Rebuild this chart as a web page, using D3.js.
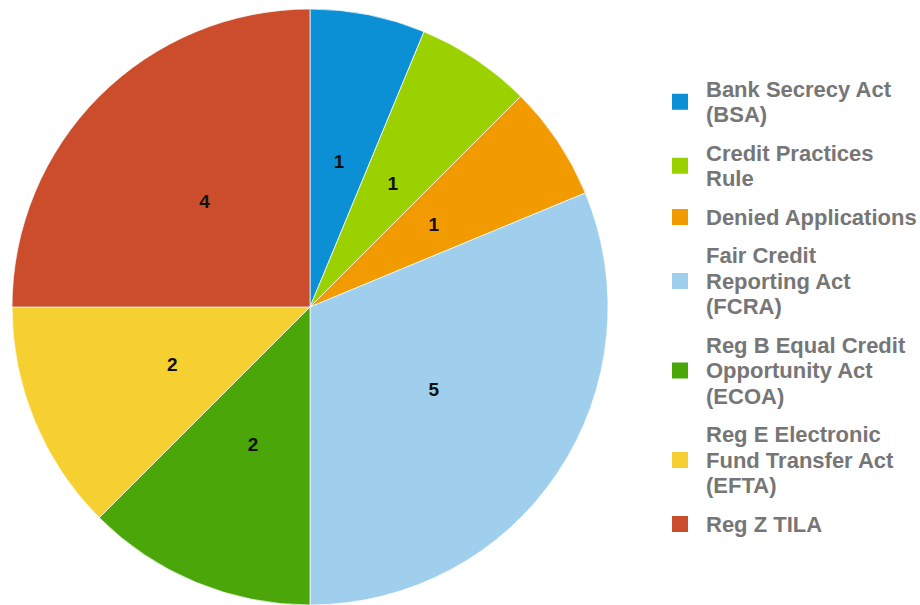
<!DOCTYPE html>
<html>
<head>
<meta charset="utf-8">
<script src="https://cdn.jsdelivr.net/npm/d3@7"></script>
<style>
  body { margin: 0; background: #fff; }
  svg { display: block; }
</style>
</head>
<body>
<div id="chart"></div>
<script>
// data
const categories = [
  "Bank Secrecy Act (BSA)",
  "Credit Practices Rule",
  "Denied Applications",
  "Fair Credit Reporting Act (FCRA)",
  "Reg B Equal Credit Opportunity Act (ECOA)",
  "Reg E Electronic Fund Transfer Act (EFTA)",
  "Reg Z TILA"
];
const counts = [1, 1, 1, 5, 2, 2, 4];
const legendLines = [
  ["Bank Secrecy Act", "(BSA)"],
  ["Credit Practices", "Rule"],
  ["Denied Applications"],
  ["Fair Credit", "Reporting Act", "(FCRA)"],
  ["Reg B Equal Credit", "Opportunity Act", "(ECOA)"],
  ["Reg E Electronic", "Fund Transfer Act", "(EFTA)"],
  ["Reg Z TILA"]
];
const colors = ["#0b8fd5", "#9cd100", "#f29b00", "#9fcfec", "#4ba60a", "#f6cf31", "#cc4d2b"];

const W = 920, H = 605;
const cx = 310, cy = 307, R = 298;
const FONT = "'Liberation Sans', Arial, sans-serif";

const svg = d3.select("#chart").append("svg")
  .attr("width", W).attr("height", H);

const rows = categories.map((c, i) => ({ name: c, value: counts[i], i: i }));

const pie = d3.pie().value(d => d.value).sort(null);
const arc = d3.arc().innerRadius(0).outerRadius(R);
const labelArc = d3.arc().innerRadius(R * 0.5).outerRadius(R * 0.5);

const color = d3.scaleOrdinal().domain(categories).range(colors);

const g = svg.append("g").attr("transform", `translate(${cx},${cy})`);
const arcs = pie(rows);

g.selectAll("path")
  .data(arcs).enter()
  .append("path")
  .attr("d", arc)
  .attr("fill", d => color(d.data.name))
  .attr("stroke", "#fff")
  .attr("stroke-width", 0.7);

g.selectAll("text")
  .data(arcs).enter()
  .append("text")
  .attr("transform", d => `translate(${labelArc.centroid(d)})`)
  .attr("text-anchor", "middle")
  .attr("dy", "0.35em")
  .attr("font-family", FONT)
  .attr("font-weight", "bold")
  .attr("font-size", 19)
  .attr("fill", "#111")
  .text(d => d.data.value);

// legend
const lineH = 25.5, itemGap = 13;
const lg = svg.append("g");
let y = 89;
rows.forEach((d, i) => {
  const lines = legendLines[i];
  const midY = y + (lines.length - 1) * lineH / 2;
  lg.append("rect")
    .attr("x", 672).attr("y", midY - 8)
    .attr("width", 16).attr("height", 16)
    .attr("fill", color(d.name));
  lines.forEach((t, k) => {
    lg.append("text")
      .attr("x", 706)
      .attr("y", y + k * lineH)
      .attr("dy", "0.35em")
      .attr("font-family", FONT)
      .attr("font-weight", "bold")
      .attr("font-size", 22)
      .attr("fill", "#767676")
      .text(t);
  });
  y += lines.length * lineH + itemGap;
});
</script>
</body>
</html>
